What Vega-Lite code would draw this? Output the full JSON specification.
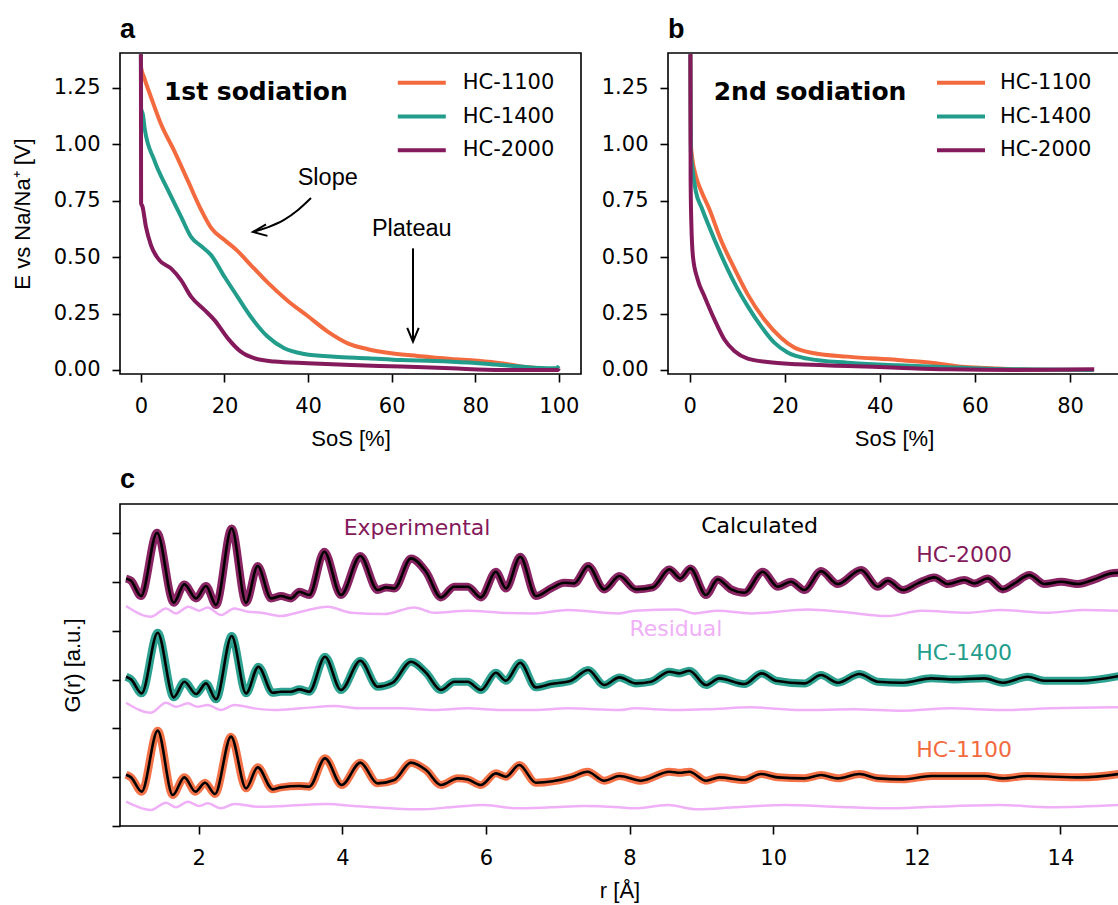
{
  "$schema": "https://vega.github.io/schema/vega-lite/v6.json",
  "background": "white",
  "padding": {"left": 10, "top": 15, "right": 0, "bottom": 0},
  "bounds": "flush",
  "spacing": 451,
  "resolve": {"legend": {"color": "independent"}},
  "datasets": {
    "sod1": [
      {"sample":"HC-1100","sos":0,"v":1.40},{"sample":"HC-1100","sos":0.05,"v":1.34},{"sample":"HC-1100","sos":0.7,"v":1.30},{"sample":"HC-1100","sos":2.4,"v":1.21},{"sample":"HC-1100","sos":4.8,"v":1.09},{"sample":"HC-1100","sos":8,"v":0.97},{"sample":"HC-1100","sos":11.2,"v":0.84},{"sample":"HC-1100","sos":14.4,"v":0.71},{"sample":"HC-1100","sos":16.8,"v":0.63},{"sample":"HC-1100","sos":20,"v":0.576},{"sample":"HC-1100","sos":23.1,"v":0.528},{"sample":"HC-1100","sos":26.3,"v":0.465},{"sample":"HC-1100","sos":30.3,"v":0.388},{"sample":"HC-1100","sos":35.1,"v":0.307},{"sample":"HC-1100","sos":39.9,"v":0.239},{"sample":"HC-1100","sos":44.7,"v":0.17},{"sample":"HC-1100","sos":49.5,"v":0.118},{"sample":"HC-1100","sos":54.3,"v":0.092},{"sample":"HC-1100","sos":59.9,"v":0.074},{"sample":"HC-1100","sos":66.2,"v":0.062},{"sample":"HC-1100","sos":74.2,"v":0.049},{"sample":"HC-1100","sos":80.6,"v":0.041},{"sample":"HC-1100","sos":86.2,"v":0.03},{"sample":"HC-1100","sos":91,"v":0.015},{"sample":"HC-1100","sos":96.6,"v":0.005},{"sample":"HC-1100","sos":100,"v":0.0},
      {"sample":"HC-1400","sos":0,"v":1.40},{"sample":"HC-1400","sos":0.05,"v":1.16},{"sample":"HC-1400","sos":0.5,"v":1.13},{"sample":"HC-1400","sos":0.9,"v":1.07},{"sample":"HC-1400","sos":3.2,"v":0.93},{"sample":"HC-1400","sos":6.4,"v":0.80},{"sample":"HC-1400","sos":9.6,"v":0.68},{"sample":"HC-1400","sos":12,"v":0.59},{"sample":"HC-1400","sos":14.4,"v":0.549},{"sample":"HC-1400","sos":16.8,"v":0.509},{"sample":"HC-1400","sos":20,"v":0.413},{"sample":"HC-1400","sos":23.1,"v":0.325},{"sample":"HC-1400","sos":26.3,"v":0.236},{"sample":"HC-1400","sos":30.3,"v":0.148},{"sample":"HC-1400","sos":34.3,"v":0.096},{"sample":"HC-1400","sos":39.1,"v":0.071},{"sample":"HC-1400","sos":46.3,"v":0.059},{"sample":"HC-1400","sos":54.3,"v":0.052},{"sample":"HC-1400","sos":62.3,"v":0.044},{"sample":"HC-1400","sos":70.2,"v":0.04},{"sample":"HC-1400","sos":78.2,"v":0.033},{"sample":"HC-1400","sos":86.2,"v":0.022},{"sample":"HC-1400","sos":94.2,"v":0.01},{"sample":"HC-1400","sos":99.4,"v":0.007},{"sample":"HC-1400","sos":100,"v":0.018},
      {"sample":"HC-2000","sos":0,"v":1.40},{"sample":"HC-2000","sos":0.05,"v":0.74},{"sample":"HC-2000","sos":0.4,"v":0.723},{"sample":"HC-2000","sos":1.2,"v":0.635},{"sample":"HC-2000","sos":2.4,"v":0.553},{"sample":"HC-2000","sos":4.4,"v":0.487},{"sample":"HC-2000","sos":7.2,"v":0.45},{"sample":"HC-2000","sos":9.6,"v":0.398},{"sample":"HC-2000","sos":12,"v":0.325},{"sample":"HC-2000","sos":15.2,"v":0.266},{"sample":"HC-2000","sos":17.6,"v":0.221},{"sample":"HC-2000","sos":20.8,"v":0.14},{"sample":"HC-2000","sos":23.9,"v":0.081},{"sample":"HC-2000","sos":27.1,"v":0.052},{"sample":"HC-2000","sos":31.9,"v":0.037},{"sample":"HC-2000","sos":39.9,"v":0.03},{"sample":"HC-2000","sos":50.3,"v":0.022},{"sample":"HC-2000","sos":62.3,"v":0.015},{"sample":"HC-2000","sos":74.2,"v":0.007},{"sample":"HC-2000","sos":86.2,"v":0.0},{"sample":"HC-2000","sos":99.8,"v":0.0},{"sample":"HC-2000","sos":100,"v":0.007}
    ],
    "sod2": [
      {"sample":"HC-1100","sos":0.15,"v":1.40},{"sample":"HC-1100","sos":0.25,"v":1.0},{"sample":"HC-1100","sos":0.6,"v":0.93},{"sample":"HC-1100","sos":1.3,"v":0.86},{"sample":"HC-1100","sos":2.5,"v":0.79},{"sample":"HC-1100","sos":4.0,"v":0.72},{"sample":"HC-1100","sos":6.6,"v":0.575},{"sample":"HC-1100","sos":9.4,"v":0.45},{"sample":"HC-1100","sos":12.2,"v":0.335},{"sample":"HC-1100","sos":15.7,"v":0.224},{"sample":"HC-1100","sos":19.2,"v":0.143},{"sample":"HC-1100","sos":22,"v":0.099},{"sample":"HC-1100","sos":26.2,"v":0.074},{"sample":"HC-1100","sos":33.2,"v":0.059},{"sample":"HC-1100","sos":43.8,"v":0.044},{"sample":"HC-1100","sos":50.8,"v":0.032},{"sample":"HC-1100","sos":55.7,"v":0.018},{"sample":"HC-1100","sos":64.8,"v":0.006},{"sample":"HC-1100","sos":75.3,"v":0.0},{"sample":"HC-1100","sos":85,"v":0.0},
      {"sample":"HC-1400","sos":0.15,"v":1.40},{"sample":"HC-1400","sos":0.25,"v":0.97},{"sample":"HC-1400","sos":0.6,"v":0.89},{"sample":"HC-1400","sos":1.3,"v":0.79},{"sample":"HC-1400","sos":2.5,"v":0.72},{"sample":"HC-1400","sos":3.8,"v":0.65},{"sample":"HC-1400","sos":6.6,"v":0.51},{"sample":"HC-1400","sos":9.4,"v":0.386},{"sample":"HC-1400","sos":12.2,"v":0.283},{"sample":"HC-1400","sos":15,"v":0.194},{"sample":"HC-1400","sos":17.8,"v":0.121},{"sample":"HC-1400","sos":20.6,"v":0.077},{"sample":"HC-1400","sos":24.8,"v":0.05},{"sample":"HC-1400","sos":33.2,"v":0.032},{"sample":"HC-1400","sos":43.8,"v":0.021},{"sample":"HC-1400","sos":54.3,"v":0.012},{"sample":"HC-1400","sos":68.3,"v":0.003},{"sample":"HC-1400","sos":85,"v":0.0},
      {"sample":"HC-2000","sos":0.15,"v":1.40},{"sample":"HC-2000","sos":0.2,"v":0.84},{"sample":"HC-2000","sos":0.35,"v":0.65},{"sample":"HC-2000","sos":0.7,"v":0.50},{"sample":"HC-2000","sos":1.7,"v":0.40},{"sample":"HC-2000","sos":3.1,"v":0.327},{"sample":"HC-2000","sos":5.2,"v":0.224},{"sample":"HC-2000","sos":7.3,"v":0.135},{"sample":"HC-2000","sos":9.4,"v":0.084},{"sample":"HC-2000","sos":12.2,"v":0.05},{"sample":"HC-2000","sos":16.4,"v":0.035},{"sample":"HC-2000","sos":22.7,"v":0.025},{"sample":"HC-2000","sos":33.2,"v":0.018},{"sample":"HC-2000","sos":43.8,"v":0.01},{"sample":"HC-2000","sos":54.3,"v":0.003},{"sample":"HC-2000","sos":68.3,"v":0.0},{"sample":"HC-2000","sos":85.1,"v":0.003}
    ],
    "slopeArrow": [
      {"sos":40.7,"v":0.762},{"sos":37.59,"v":0.709},{"sos":34.24,"v":0.665},{"sos":30.64,"v":0.634},{"sos":26.81,"v":0.612}
    ],
    "pdf": [
      {"sample":"HC-2000","r":0.988,"g":5.07},{"sample":"HC-2000","r":1.058,"g":5.027},{"sample":"HC-2000","r":1.197,"g":4.713},{"sample":"HC-2000","r":1.42,"g":6.011},{"sample":"HC-2000","r":1.652,"g":4.577},{"sample":"HC-2000","r":1.8,"g":4.952},{"sample":"HC-2000","r":1.963,"g":4.665},{"sample":"HC-2000","r":2.102,"g":4.918},{"sample":"HC-2000","r":2.241,"g":4.529},{"sample":"HC-2000","r":2.459,"g":6.1},{"sample":"HC-2000","r":2.659,"g":4.577},{"sample":"HC-2000","r":2.821,"g":5.328},{"sample":"HC-2000","r":3.007,"g":4.665},{"sample":"HC-2000","r":3.146,"g":4.713},{"sample":"HC-2000","r":3.285,"g":4.665},{"sample":"HC-2000","r":3.401,"g":4.802},{"sample":"HC-2000","r":3.541,"g":4.734},{"sample":"HC-2000","r":3.749,"g":5.622},{"sample":"HC-2000","r":3.981,"g":4.734},{"sample":"HC-2000","r":4.251,"g":5.533},{"sample":"HC-2000","r":4.492,"g":4.836},{"sample":"HC-2000","r":4.608,"g":4.891},{"sample":"HC-2000","r":4.724,"g":4.87},{"sample":"HC-2000","r":4.956,"g":5.485},{"sample":"HC-2000","r":5.165,"g":5.212},{"sample":"HC-2000","r":5.374,"g":4.686},{"sample":"HC-2000","r":5.559,"g":4.904},{"sample":"HC-2000","r":5.745,"g":4.904},{"sample":"HC-2000","r":5.93,"g":4.686},{"sample":"HC-2000","r":6.139,"g":5.212},{"sample":"HC-2000","r":6.278,"g":4.87},{"sample":"HC-2000","r":6.478,"g":5.519},{"sample":"HC-2000","r":6.696,"g":4.713},{"sample":"HC-2000","r":6.905,"g":4.87},{"sample":"HC-2000","r":7.09,"g":4.986},{"sample":"HC-2000","r":7.23,"g":4.973},{"sample":"HC-2000","r":7.425,"g":5.328},{"sample":"HC-2000","r":7.647,"g":4.85},{"sample":"HC-2000","r":7.858,"g":5.123},{"sample":"HC-2000","r":8.09,"g":4.85},{"sample":"HC-2000","r":8.323,"g":4.891},{"sample":"HC-2000","r":8.555,"g":5.26},{"sample":"HC-2000","r":8.708,"g":5.075},{"sample":"HC-2000","r":8.847,"g":5.28},{"sample":"HC-2000","r":9.065,"g":4.734},{"sample":"HC-2000","r":9.228,"g":5.055},{"sample":"HC-2000","r":9.414,"g":4.85},{"sample":"HC-2000","r":9.599,"g":4.781},{"sample":"HC-2000","r":9.855,"g":5.212},{"sample":"HC-2000","r":10.064,"g":4.904},{"sample":"HC-2000","r":10.249,"g":5.007},{"sample":"HC-2000","r":10.435,"g":4.836},{"sample":"HC-2000","r":10.667,"g":5.225},{"sample":"HC-2000","r":10.899,"g":4.959},{"sample":"HC-2000","r":11.224,"g":5.246},{"sample":"HC-2000","r":11.456,"g":4.904},{"sample":"HC-2000","r":11.596,"g":5.027},{"sample":"HC-2000","r":11.805,"g":4.836},{"sample":"HC-2000","r":12.013,"g":4.973},{"sample":"HC-2000","r":12.246,"g":5.096},{"sample":"HC-2000","r":12.431,"g":4.959},{"sample":"HC-2000","r":12.663,"g":5.041},{"sample":"HC-2000","r":12.803,"g":4.973},{"sample":"HC-2000","r":12.988,"g":5.075},{"sample":"HC-2000","r":13.197,"g":4.85},{"sample":"HC-2000","r":13.36,"g":4.973},{"sample":"HC-2000","r":13.569,"g":5.143},{"sample":"HC-2000","r":13.777,"g":4.959},{"sample":"HC-2000","r":14.01,"g":5.007},{"sample":"HC-2000","r":14.242,"g":4.959},{"sample":"HC-2000","r":14.474,"g":5.055},{"sample":"HC-2000","r":14.706,"g":5.178},{"sample":"HC-2000","r":14.818,"g":5.191},
      {"sample":"HC-1400","r":0.988,"g":3.06},{"sample":"HC-1400","r":1.058,"g":3.005},{"sample":"HC-1400","r":1.206,"g":2.719},{"sample":"HC-1400","r":1.429,"g":3.962},{"sample":"HC-1400","r":1.652,"g":2.637},{"sample":"HC-1400","r":1.8,"g":2.958},{"sample":"HC-1400","r":1.963,"g":2.705},{"sample":"HC-1400","r":2.102,"g":2.923},{"sample":"HC-1400","r":2.241,"g":2.596},{"sample":"HC-1400","r":2.459,"g":3.893},{"sample":"HC-1400","r":2.659,"g":2.719},{"sample":"HC-1400","r":2.831,"g":3.265},{"sample":"HC-1400","r":3.03,"g":2.732},{"sample":"HC-1400","r":3.146,"g":2.753},{"sample":"HC-1400","r":3.285,"g":2.753},{"sample":"HC-1400","r":3.401,"g":2.801},{"sample":"HC-1400","r":3.541,"g":2.753},{"sample":"HC-1400","r":3.759,"g":3.47},{"sample":"HC-1400","r":3.981,"g":2.787},{"sample":"HC-1400","r":4.251,"g":3.388},{"sample":"HC-1400","r":4.492,"g":2.855},{"sample":"HC-1400","r":4.701,"g":2.937},{"sample":"HC-1400","r":4.956,"g":3.367},{"sample":"HC-1400","r":5.165,"g":3.142},{"sample":"HC-1400","r":5.374,"g":2.787},{"sample":"HC-1400","r":5.559,"g":2.958},{"sample":"HC-1400","r":5.745,"g":2.958},{"sample":"HC-1400","r":5.93,"g":2.787},{"sample":"HC-1400","r":6.139,"g":3.142},{"sample":"HC-1400","r":6.278,"g":2.978},{"sample":"HC-1400","r":6.478,"g":3.347},{"sample":"HC-1400","r":6.696,"g":2.842},{"sample":"HC-1400","r":6.905,"g":2.91},{"sample":"HC-1400","r":7.183,"g":2.978},{"sample":"HC-1400","r":7.425,"g":3.197},{"sample":"HC-1400","r":7.647,"g":2.889},{"sample":"HC-1400","r":7.858,"g":3.046},{"sample":"HC-1400","r":8.09,"g":2.923},{"sample":"HC-1400","r":8.299,"g":2.958},{"sample":"HC-1400","r":8.555,"g":3.163},{"sample":"HC-1400","r":8.694,"g":3.128},{"sample":"HC-1400","r":8.833,"g":3.183},{"sample":"HC-1400","r":9.065,"g":2.889},{"sample":"HC-1400","r":9.251,"g":3.026},{"sample":"HC-1400","r":9.599,"g":2.91},{"sample":"HC-1400","r":9.841,"g":3.128},{"sample":"HC-1400","r":10.04,"g":2.978},{"sample":"HC-1400","r":10.435,"g":2.923},{"sample":"HC-1400","r":10.667,"g":3.094},{"sample":"HC-1400","r":10.899,"g":2.937},{"sample":"HC-1400","r":11.201,"g":3.115},{"sample":"HC-1400","r":11.456,"g":2.958},{"sample":"HC-1400","r":11.805,"g":2.937},{"sample":"HC-1400","r":12.199,"g":3.026},{"sample":"HC-1400","r":12.524,"g":3.005},{"sample":"HC-1400","r":12.942,"g":3.026},{"sample":"HC-1400","r":13.197,"g":2.937},{"sample":"HC-1400","r":13.545,"g":3.06},{"sample":"HC-1400","r":13.777,"g":2.978},{"sample":"HC-1400","r":14.288,"g":2.978},{"sample":"HC-1400","r":14.818,"g":3.074},
      {"sample":"HC-1100","r":0.988,"g":1.05},{"sample":"HC-1100","r":1.058,"g":0.997},{"sample":"HC-1100","r":1.206,"g":0.704},{"sample":"HC-1100","r":1.429,"g":1.954},{"sample":"HC-1100","r":1.638,"g":0.635},{"sample":"HC-1100","r":1.8,"g":0.997},{"sample":"HC-1100","r":1.954,"g":0.704},{"sample":"HC-1100","r":2.088,"g":0.888},{"sample":"HC-1100","r":2.227,"g":0.656},{"sample":"HC-1100","r":2.45,"g":1.831},{"sample":"HC-1100","r":2.659,"g":0.772},{"sample":"HC-1100","r":2.821,"g":1.202},{"sample":"HC-1100","r":3.03,"g":0.751},{"sample":"HC-1100","r":3.146,"g":0.792},{"sample":"HC-1100","r":3.401,"g":0.82},{"sample":"HC-1100","r":3.541,"g":0.806},{"sample":"HC-1100","r":3.759,"g":1.387},{"sample":"HC-1100","r":3.991,"g":0.84},{"sample":"HC-1100","r":4.251,"g":1.298},{"sample":"HC-1100","r":4.492,"g":0.874},{"sample":"HC-1100","r":4.724,"g":0.943},{"sample":"HC-1100","r":4.956,"g":1.298},{"sample":"HC-1100","r":5.165,"g":1.148},{"sample":"HC-1100","r":5.374,"g":0.84},{"sample":"HC-1100","r":5.606,"g":0.977},{"sample":"HC-1100","r":5.745,"g":0.956},{"sample":"HC-1100","r":5.93,"g":0.84},{"sample":"HC-1100","r":6.139,"g":1.079},{"sample":"HC-1100","r":6.278,"g":1.011},{"sample":"HC-1100","r":6.464,"g":1.25},{"sample":"HC-1100","r":6.696,"g":0.888},{"sample":"HC-1100","r":7.183,"g":0.997},{"sample":"HC-1100","r":7.415,"g":1.113},{"sample":"HC-1100","r":7.647,"g":0.929},{"sample":"HC-1100","r":7.858,"g":1.025},{"sample":"HC-1100","r":8.16,"g":0.929},{"sample":"HC-1100","r":8.555,"g":1.113},{"sample":"HC-1100","r":8.7,"g":1.09},{"sample":"HC-1100","r":8.833,"g":1.113},{"sample":"HC-1100","r":9.065,"g":0.929},{"sample":"HC-1100","r":9.251,"g":0.997},{"sample":"HC-1100","r":9.599,"g":0.943},{"sample":"HC-1100","r":9.831,"g":1.066},{"sample":"HC-1100","r":10.064,"g":0.997},{"sample":"HC-1100","r":10.435,"g":0.977},{"sample":"HC-1100","r":10.667,"g":1.045},{"sample":"HC-1100","r":10.899,"g":0.977},{"sample":"HC-1100","r":11.201,"g":1.066},{"sample":"HC-1100","r":11.456,"g":0.977},{"sample":"HC-1100","r":11.805,"g":0.956},{"sample":"HC-1100","r":12.199,"g":1.025},{"sample":"HC-1100","r":12.942,"g":1.025},{"sample":"HC-1100","r":13.197,"g":0.977},{"sample":"HC-1100","r":13.545,"g":1.025},{"sample":"HC-1100","r":14.288,"g":0.997},{"sample":"HC-1100","r":14.818,"g":1.066}
    ],
    "res": [
      {"sample":"HC-2000","r":0.988,"d":4.508},{"sample":"HC-2000","r":1.336,"d":4.29},{"sample":"HC-2000","r":1.545,"d":4.46},{"sample":"HC-2000","r":1.684,"d":4.358},{"sample":"HC-2000","r":1.856,"d":4.495},{"sample":"HC-2000","r":2.009,"d":4.413},{"sample":"HC-2000","r":2.125,"d":4.481},{"sample":"HC-2000","r":2.311,"d":4.324},{"sample":"HC-2000","r":2.497,"d":4.46},{"sample":"HC-2000","r":2.682,"d":4.392},{"sample":"HC-2000","r":2.868,"d":4.372},{"sample":"HC-2000","r":3.146,"d":4.303},{"sample":"HC-2000","r":3.425,"d":4.392},{"sample":"HC-2000","r":3.796,"d":4.495},{"sample":"HC-2000","r":4.121,"d":4.372},{"sample":"HC-2000","r":4.585,"d":4.344},{"sample":"HC-2000","r":5.002,"d":4.481},{"sample":"HC-2000","r":5.281,"d":4.372},{"sample":"HC-2000","r":5.745,"d":4.413},{"sample":"HC-2000","r":6.209,"d":4.372},{"sample":"HC-2000","r":6.673,"d":4.358},{"sample":"HC-2000","r":7.137,"d":4.426},{"sample":"HC-2000","r":7.856,"d":4.358},{"sample":"HC-2000","r":8.067,"d":4.413},{"sample":"HC-2000","r":8.671,"d":4.44},{"sample":"HC-2000","r":8.903,"d":4.358},{"sample":"HC-2000","r":9.228,"d":4.413},{"sample":"HC-2000","r":9.692,"d":4.358},{"sample":"HC-2000","r":10.481,"d":4.44},{"sample":"HC-2000","r":10.946,"d":4.392},{"sample":"HC-2000","r":11.596,"d":4.303},{"sample":"HC-2000","r":12.06,"d":4.413},{"sample":"HC-2000","r":12.71,"d":4.372},{"sample":"HC-2000","r":13.174,"d":4.426},{"sample":"HC-2000","r":13.824,"d":4.372},{"sample":"HC-2000","r":14.335,"d":4.426},{"sample":"HC-2000","r":14.818,"d":4.413},
      {"sample":"HC-1400","r":0.988,"d":2.527},{"sample":"HC-1400","r":1.336,"d":2.322},{"sample":"HC-1400","r":1.545,"d":2.527},{"sample":"HC-1400","r":1.684,"d":2.445},{"sample":"HC-1400","r":1.847,"d":2.514},{"sample":"HC-1400","r":1.986,"d":2.445},{"sample":"HC-1400","r":2.125,"d":2.48},{"sample":"HC-1400","r":2.311,"d":2.377},{"sample":"HC-1400","r":2.497,"d":2.48},{"sample":"HC-1400","r":2.775,"d":2.411},{"sample":"HC-1400","r":3.053,"d":2.377},{"sample":"HC-1400","r":3.425,"d":2.411},{"sample":"HC-1400","r":3.889,"d":2.459},{"sample":"HC-1400","r":4.26,"d":2.411},{"sample":"HC-1400","r":4.817,"d":2.411},{"sample":"HC-1400","r":5.281,"d":2.377},{"sample":"HC-1400","r":5.745,"d":2.411},{"sample":"HC-1400","r":6.209,"d":2.377},{"sample":"HC-1400","r":6.673,"d":2.377},{"sample":"HC-1400","r":7.137,"d":2.411},{"sample":"HC-1400","r":7.856,"d":2.377},{"sample":"HC-1400","r":8.067,"d":2.411},{"sample":"HC-1400","r":8.624,"d":2.377},{"sample":"HC-1400","r":9.089,"d":2.391},{"sample":"HC-1400","r":9.692,"d":2.432},{"sample":"HC-1400","r":10.389,"d":2.377},{"sample":"HC-1400","r":11.131,"d":2.391},{"sample":"HC-1400","r":11.781,"d":2.363},{"sample":"HC-1400","r":12.478,"d":2.411},{"sample":"HC-1400","r":13.174,"d":2.377},{"sample":"HC-1400","r":13.87,"d":2.411},{"sample":"HC-1400","r":14.818,"d":2.432},
      {"sample":"HC-1100","r":0.988,"d":0.499},{"sample":"HC-1100","r":1.336,"d":0.328},{"sample":"HC-1100","r":1.545,"d":0.478},{"sample":"HC-1100","r":1.684,"d":0.383},{"sample":"HC-1100","r":1.847,"d":0.499},{"sample":"HC-1100","r":2.009,"d":0.41},{"sample":"HC-1100","r":2.125,"d":0.464},{"sample":"HC-1100","r":2.311,"d":0.362},{"sample":"HC-1100","r":2.497,"d":0.451},{"sample":"HC-1100","r":2.821,"d":0.396},{"sample":"HC-1100","r":3.193,"d":0.41},{"sample":"HC-1100","r":3.796,"d":0.451},{"sample":"HC-1100","r":4.167,"d":0.41},{"sample":"HC-1100","r":4.678,"d":0.362},{"sample":"HC-1100","r":5.095,"d":0.342},{"sample":"HC-1100","r":5.513,"d":0.383},{"sample":"HC-1100","r":5.977,"d":0.43},{"sample":"HC-1100","r":6.441,"d":0.362},{"sample":"HC-1100","r":6.905,"d":0.383},{"sample":"HC-1100","r":7.369,"d":0.41},{"sample":"HC-1100","r":7.856,"d":0.383},{"sample":"HC-1100","r":8.067,"d":0.362},{"sample":"HC-1100","r":8.532,"d":0.43},{"sample":"HC-1100","r":8.949,"d":0.342},{"sample":"HC-1100","r":9.46,"d":0.383},{"sample":"HC-1100","r":10.156,"d":0.43},{"sample":"HC-1100","r":10.853,"d":0.396},{"sample":"HC-1100","r":11.549,"d":0.362},{"sample":"HC-1100","r":12.246,"d":0.396},{"sample":"HC-1100","r":13.174,"d":0.43},{"sample":"HC-1100","r":13.87,"d":0.383},{"sample":"HC-1100","r":14.818,"d":0.43}
    ]
  },
  "vconcat": [
    {
      "bounds": "flush",
      "spacing": 87,
      "resolve": {"legend": {"color": "independent"}},
      "hconcat": [
        {
          "width": 461,
          "height": 321,
          "title": {"text": "a", "anchor": "start", "frame": "group", "offset": -12, "baseline": "alphabetic", "font": "Liberation Sans", "fontSize": 27, "fontWeight": "bold", "color": "black"},
          "layer": [
            {
              "data": {"name": "sod1"},
              "mark": {"type": "line", "strokeWidth": 4, "clip": true, "interpolate": "monotone"},
              "encoding": {
                "x": {"field": "sos", "type": "quantitative", "scale": {"domain": [-5, 105.3], "nice": false, "zero": false}, "axis": {"title": "SoS [%]", "values": [0, 20, 40, 60, 80, 100]}},
                "y": {"field": "v", "type": "quantitative", "scale": {"domain": [-0.018, 1.405], "nice": false, "zero": false}, "axis": {"title": "E vs Na/Na⁺ [V]", "values": [0, 0.25, 0.5, 0.75, 1, 1.25], "format": ".2f"}},
                "color": {"field": "sample", "type": "nominal", "scale": {"domain": ["HC-1100", "HC-1400", "HC-2000"], "range": ["#f36a3e", "#239d8b", "#84195b"]},
                  "legend": {"orient": "none", "legendX": 289.8, "legendY": 17.7, "title": null, "symbolType": "M-2.4,0H2.4", "symbolSize": 400, "symbolStrokeWidth": 4, "labelFont": "DejaVu Sans", "labelFontSize": 21, "labelColor": "black", "labelOffset": 29, "rowPadding": 11.8, "padding": 0, "symbolOffset": 0}}
              }
            },
            {
              "data": {"values": [{}]},
              "mark": {"type": "text", "text": "1st sodiation", "align": "left", "baseline": "alphabetic", "font": "DejaVu Sans", "fontSize": 25, "fontWeight": "bold", "color": "black"},
              "encoding": {"x": {"datum": 5.5}, "y": {"datum": 1.197}}
            },
            {
              "data": {"values": [{}]},
              "mark": {"type": "text", "text": "Slope", "align": "center", "baseline": "alphabetic", "font": "Liberation Sans", "fontSize": 23.5, "color": "black"},
              "encoding": {"x": {"datum": 44.7}, "y": {"datum": 0.82}}
            },
            {
              "data": {"values": [{}]},
              "mark": {"type": "text", "text": "Plateau", "align": "center", "baseline": "alphabetic", "font": "Liberation Sans", "fontSize": 23.5, "color": "black"},
              "encoding": {"x": {"datum": 64.8}, "y": {"datum": 0.594}}
            },
            {
              "data": {"name": "slopeArrow"},
              "mark": {"type": "line", "color": "black", "strokeWidth": 2, "interpolate": "monotone"},
              "encoding": {"x": {"field": "sos", "type": "quantitative"}, "y": {"field": "v", "type": "quantitative"}}
            },
            {
              "data": {"values": [{}]},
              "mark": {"type": "point", "shape": "M-1,-0.414L0,0L-1,0.414", "filled": false, "stroke": "black", "strokeWidth": 2, "size": 770, "angle": 173, "opacity": 1},
              "encoding": {"x": {"datum": 26.81}, "y": {"datum": 0.612}}
            },
            {
              "data": {"values": [{}]},
              "mark": {"type": "rule", "color": "black", "strokeWidth": 2},
              "encoding": {"x": {"datum": 65.1}, "y": {"datum": 0.539}, "y2": {"datum": 0.128}}
            },
            {
              "data": {"values": [{}]},
              "mark": {"type": "point", "shape": "M-1,-0.414L0,0L-1,0.414", "filled": false, "stroke": "black", "strokeWidth": 2, "size": 770, "angle": 90, "opacity": 1},
              "encoding": {"x": {"datum": 65.1}, "y": {"datum": 0.125}}
            }
          ]
        },
        {
          "width": 452,
          "height": 321,
          "title": {"text": "b", "anchor": "start", "frame": "group", "offset": -12, "baseline": "alphabetic", "font": "Liberation Sans", "fontSize": 27, "fontWeight": "bold", "color": "black"},
          "layer": [
            {
              "data": {"name": "sod2"},
              "mark": {"type": "line", "strokeWidth": 4, "clip": true, "interpolate": "monotone"},
              "encoding": {
                "x": {"field": "sos", "type": "quantitative", "scale": {"domain": [-4.56, 90.52], "nice": false, "zero": false}, "axis": {"title": "SoS [%]", "values": [0, 20, 40, 60, 80]}},
                "y": {"field": "v", "type": "quantitative", "scale": {"domain": [-0.018, 1.405], "nice": false, "zero": false}, "axis": {"title": null, "values": [0, 0.25, 0.5, 0.75, 1, 1.25], "format": ".2f"}},
                "color": {"field": "sample", "type": "nominal", "scale": {"domain": ["HC-1100", "HC-1400", "HC-2000"], "range": ["#f36a3e", "#239d8b", "#84195b"]},
                  "legend": {"orient": "none", "legendX": 281, "legendY": 17.7, "title": null, "symbolType": "M-2.4,0H2.4", "symbolSize": 400, "symbolStrokeWidth": 4, "labelFont": "DejaVu Sans", "labelFontSize": 21, "labelColor": "black", "labelOffset": 27, "rowPadding": 11.8, "padding": 0, "symbolOffset": 0}}
              }
            },
            {
              "data": {"values": [{}]},
              "mark": {"type": "text", "text": "2nd sodiation", "align": "left", "baseline": "alphabetic", "font": "DejaVu Sans", "fontSize": 25, "fontWeight": "bold", "color": "black"},
              "encoding": {"x": {"datum": 5.05}, "y": {"datum": 1.197}}
            }
          ]
        }
      ]
    },
    {
      "width": 999,
      "height": 322,
      "title": {"text": "c", "anchor": "start", "frame": "group", "offset": -11, "baseline": "alphabetic", "font": "Liberation Sans", "fontSize": 27, "fontWeight": "bold", "color": "black"},
      "layer": [
        {
          "data": {"name": "res"},
          "mark": {"type": "line", "strokeWidth": 2.5, "color": "#f0b0f8", "interpolate": "monotone", "clip": true},
          "encoding": {
            "x": {"field": "r", "type": "quantitative", "scale": {"domain": [0.904, 14.816], "nice": false, "zero": false}, "axis": {"title": "r [Å]", "values": [2, 4, 6, 8, 10, 12, 14], "format": "d"}},
            "y": {"field": "d", "type": "quantitative", "scale": {"domain": [0, 6.6], "nice": false, "zero": false}, "axis": {"title": "G(r) [a.u.]", "values": [0, 1, 2, 3, 4, 5, 6], "labels": false, "titlePadding": 27}},
            "detail": {"field": "sample", "type": "nominal"}
          }
        },
        {
          "data": {"name": "pdf"},
          "mark": {"type": "line", "strokeWidth": 8, "interpolate": "monotone", "clip": true, "opacity": 0.95},
          "encoding": {
            "x": {"field": "r", "type": "quantitative"},
            "y": {"field": "g", "type": "quantitative"},
            "stroke": {"field": "sample", "type": "nominal", "scale": {"domain": ["HC-1100", "HC-1400", "HC-2000"], "range": ["#f36a3e", "#239d8b", "#84195b"]}, "legend": null}
          }
        },
        {
          "data": {"name": "pdf"},
          "mark": {"type": "line", "strokeWidth": 2.6, "color": "black", "interpolate": "monotone", "clip": true},
          "encoding": {
            "x": {"field": "r", "type": "quantitative"},
            "y": {"field": "g", "type": "quantitative"},
            "detail": {"field": "sample", "type": "nominal"}
          }
        },
        {"data": {"values": [{}]}, "mark": {"type": "text", "text": "Experimental", "align": "center", "baseline": "alphabetic", "font": "DejaVu Sans", "fontSize": 22, "color": "#84195b"}, "encoding": {"x": {"datum": 5.04}, "y": {"datum": 5.966}}},
        {"data": {"values": [{}]}, "mark": {"type": "text", "text": "Calculated", "align": "center", "baseline": "alphabetic", "font": "DejaVu Sans", "fontSize": 22, "color": "black"}, "encoding": {"x": {"datum": 9.81}, "y": {"datum": 6.0}}},
        {"data": {"values": [{}]}, "mark": {"type": "text", "text": "HC-2000", "align": "center", "baseline": "alphabetic", "font": "DejaVu Sans", "fontSize": 22, "color": "#84195b"}, "encoding": {"x": {"datum": 12.66}, "y": {"datum": 5.42}}},
        {"data": {"values": [{}]}, "mark": {"type": "text", "text": "Residual", "align": "center", "baseline": "alphabetic", "font": "DejaVu Sans", "fontSize": 22, "color": "#f0b0f8"}, "encoding": {"x": {"datum": 8.645}, "y": {"datum": 3.885}}},
        {"data": {"values": [{}]}, "mark": {"type": "text", "text": "HC-1400", "align": "center", "baseline": "alphabetic", "font": "DejaVu Sans", "fontSize": 22, "color": "#239d8b"}, "encoding": {"x": {"datum": 12.66}, "y": {"datum": 3.41}}},
        {"data": {"values": [{}]}, "mark": {"type": "text", "text": "HC-1100", "align": "center", "baseline": "alphabetic", "font": "DejaVu Sans", "fontSize": 22, "color": "#f36a3e"}, "encoding": {"x": {"datum": 12.66}, "y": {"datum": 1.408}}}
      ]
    }
  ],
  "config": {
    "view": {"stroke": "black", "strokeWidth": 1.6},
    "axis": {"domain": false, "grid": false, "ticks": true, "tickColor": "black", "tickWidth": 1.6, "tickSize": 8, "labelFont": "DejaVu Sans", "labelFontSize": 21, "labelColor": "black", "labelFlush": false, "labelOverlap": false, "titleFont": "Liberation Sans", "titleFontSize": 22, "titleFontWeight": "normal", "titleColor": "black"},
    "axisX": {"labelPadding": 13.5, "titlePadding": 12},
    "axisY": {"labelPadding": 12, "titlePadding": 19}
  }
}
